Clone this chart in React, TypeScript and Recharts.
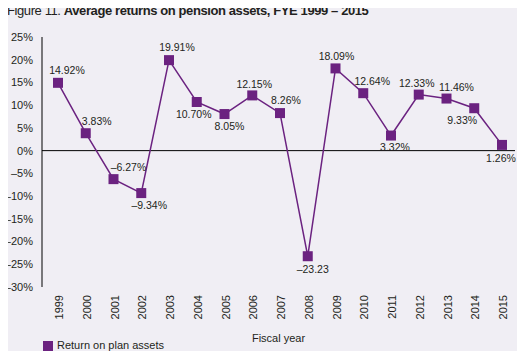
import { LineChart, Line, XAxis, YAxis, ReferenceLine, Legend } from 'recharts';

const years = ['1999', '2000', '2001', '2002', '2003', '2004', '2005', '2006', '2007', '2008', '2009', '2010', '2011', '2012', '2013', '2014', '2015'];
const returns = [14.92, 3.83, -6.27, -9.34, 19.91, 10.7, 8.05, 12.15, 8.26, -23.23, 18.09, 12.64, 3.32, 12.33, 11.46, 9.33, 1.26];
const pointLabels = ['14.92%', '3.83%', '\u20136.27%', '\u20139.34%', '19.91%', '10.70%', '8.05%', '12.15%', '8.26%', '\u201323.23', '18.09%', '12.64%', '3.32%', '12.33%', '11.46%', '9.33%', '1.26%'];
const yTicks = [25, 20, 15, 10, 5, 0, -5, -10, -15, -20, -25, -30];

const data = years.map((year, i) => ({ year, value: returns[i], label: pointLabels[i] }));

// where each value label sits relative to its marker
const labelOffsets: [number, number][] = [
  [9, -13], [11, -12], [15, -12], [8, 12], [8, -13], [-3, 12], [5, 12], [2, -11], [6, -13],
  [5, 13], [1, -12], [9, -12], [4, 11], [-2, -12], [10, -12], [-12, 12], [-1, 13],
];

const PURPLE = '#6b2280';
const TEXT = '#231f20';
const FONT = '"Liberation Sans", Arial, sans-serif';

const SquareDot = (props: any) => {
  const { cx, cy } = props;
  if (cx == null || cy == null) return null;
  return <rect x={cx - 5} y={cy - 5} width={10} height={10} fill={PURPLE} />;
};

const ValueLabel = (props: any) => {
  const { x, y, index } = props;
  const [dx, dy] = labelOffsets[index] || [0, -12];
  return (
    <text
      x={x + dx}
      y={y + dy}
      textAnchor="middle"
      dominantBaseline="central"
      fontSize={10.5}
      fill={TEXT}
      fontFamily={FONT}
    >
      {pointLabels[index]}
    </text>
  );
};

const YearTick = (props: any) => {
  const { x, y, payload } = props;
  const tx = x + 1;
  return (
    <text
      x={tx}
      y={y}
      transform={`rotate(-90, ${tx}, ${y})`}
      textAnchor="end"
      dominantBaseline="central"
      fontSize={11}
      fill={TEXT}
      fontFamily={FONT}
    >
      {payload.value}
    </text>
  );
};

export default function App() {
  return (
    <div
      style={{
        position: 'relative',
        width: 525,
        height: 359,
        margin: -8,
        background: '#f0eef4',
        fontFamily: FONT,
        color: TEXT,
      }}
    >
      <div
        style={{
          position: 'absolute',
          left: 7,
          top: 3,
          fontSize: 13,
          lineHeight: '16px',
          letterSpacing: -0.4,
          whiteSpace: 'nowrap',
          zIndex: 2,
        }}
      >
        Figure 11. <b>Average returns on pension assets, FYE 1999 &ndash; 2015</b>
      </div>
      <LineChart width={525} height={359} data={data} margin={{ top: 37, right: 10, bottom: 15, left: 0 }}>
        <XAxis
          dataKey="year"
          axisLine={false}
          tickLine={false}
          tickSize={0}
          tickMargin={8}
          interval={0}
          height={57}
          padding={{ left: 16, right: 13 }}
          tick={<YearTick />}
          label={{ value: 'Fiscal year', position: 'insideBottom', offset: 2, fontSize: 11, fill: TEXT }}
        />
        <YAxis
          domain={[-30, 25]}
          ticks={yTicks}
          width={42}
          tickLine={false}
          tickSize={0}
          tickMargin={9}
          axisLine={{ stroke: '#000', strokeWidth: 1 }}
          tickFormatter={(v: number) => (v < 0 ? `\u2013${Math.abs(v)}%` : `${v}%`)}
          tick={{ fontSize: 11, fill: TEXT }}
        />
        <ReferenceLine y={0} stroke="#000" strokeWidth={1} />
        <Legend
          layout="horizontal"
          verticalAlign="middle"
          align="center"
          iconType="square"
          iconSize={10}
          wrapperStyle={{ left: 43, top: 339, width: 'auto', fontSize: 11 }}
          formatter={(value: string) => <span style={{ color: TEXT }}>{value}</span>}
        />
        <Line
          type="linear"
          dataKey="value"
          name="Return on plan assets"
          stroke={PURPLE}
          strokeWidth={1.5}
          dot={<SquareDot />}
          activeDot={false}
          label={<ValueLabel />}
          isAnimationActive={false}
        />
      </LineChart>
    </div>
  );
}
